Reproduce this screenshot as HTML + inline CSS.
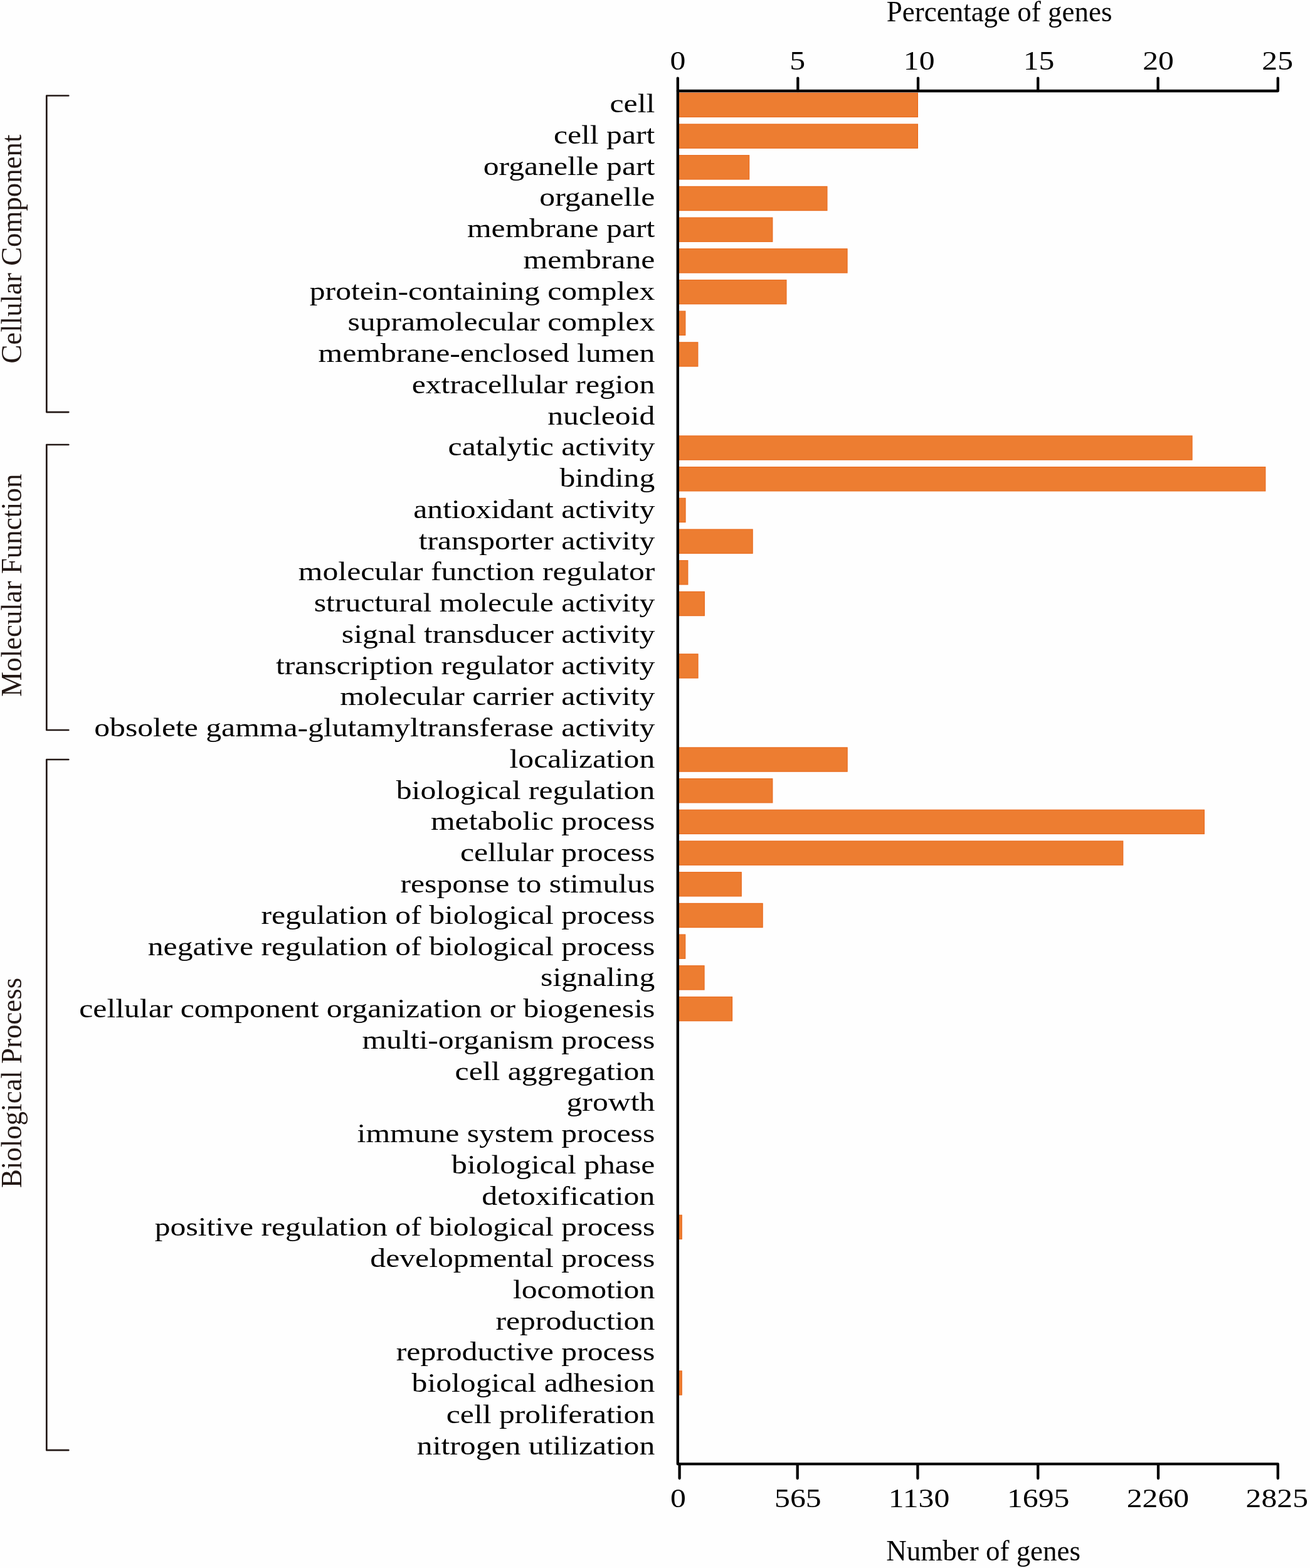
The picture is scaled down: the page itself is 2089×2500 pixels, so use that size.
<!DOCTYPE html>
<html><head><meta charset="utf-8"><title>GO classification</title>
<style>
html,body{margin:0;padding:0;background:#fefefe;}
body{width:2089px;height:2500px;overflow:hidden;}
svg{display:block;}
text{font-family:"Liberation Serif","Times New Roman",serif;}
</style></head><body>
<svg width="2089" height="2500" viewBox="0 0 2089 2500">
<rect width="2089" height="2500" fill="#fefefe"/>

<g fill="#ED7D31" stroke="#E96A1C" stroke-width="1.2">
<rect x="1081" y="148.30" width="382.40" height="38.20"/>
<rect x="1081" y="198.00" width="382.40" height="38.20"/>
<rect x="1081" y="247.69" width="113.60" height="38.20"/>
<rect x="1081" y="297.39" width="237.90" height="38.20"/>
<rect x="1081" y="347.08" width="150.80" height="38.20"/>
<rect x="1081" y="396.78" width="270.00" height="38.20"/>
<rect x="1081" y="446.48" width="172.90" height="38.20"/>
<rect x="1081" y="496.17" width="11.80" height="38.20"/>
<rect x="1081" y="545.87" width="31.80" height="38.20"/>
<rect x="1081" y="694.96" width="820.00" height="38.20"/>
<rect x="1081" y="744.65" width="936.80" height="38.20"/>
<rect x="1081" y="794.35" width="12.00" height="38.20"/>
<rect x="1081" y="844.04" width="119.10" height="38.20"/>
<rect x="1081" y="893.74" width="15.80" height="38.20"/>
<rect x="1081" y="943.44" width="42.30" height="38.20"/>
<rect x="1081" y="1042.83" width="32.00" height="38.20"/>
<rect x="1081" y="1191.92" width="270.10" height="38.20"/>
<rect x="1081" y="1241.61" width="150.80" height="38.20"/>
<rect x="1081" y="1291.31" width="839.30" height="38.20"/>
<rect x="1081" y="1341.00" width="709.70" height="38.20"/>
<rect x="1081" y="1390.70" width="101.20" height="38.20"/>
<rect x="1081" y="1440.40" width="135.10" height="38.20"/>
<rect x="1081" y="1490.09" width="11.70" height="38.20"/>
<rect x="1081" y="1539.79" width="42.00" height="38.20"/>
<rect x="1081" y="1589.48" width="86.50" height="38.20"/>
<rect x="1081" y="1937.36" width="6.20" height="38.20"/>
<rect x="1081" y="2185.84" width="6.20" height="38.20"/>
</g>
<g fill="none" stroke="#000" stroke-width="4.3" stroke-linecap="round" stroke-linejoin="round">
<path d="M1080.8,124.6 V2334.2 H2037.8 V2357"/>
<path d="M1080.8,145 H2037.8 V124.6"/>
<path d="M1272.3,124.6 V145"/>
<path d="M1464.0,124.6 V145"/>
<path d="M1655.2,124.6 V145"/>
<path d="M1846.6,124.6 V145"/>
<path d="M1083.6,2334.2 V2357"/>
<path d="M1271.7,2334.2 V2357"/>
<path d="M1463.4,2334.2 V2357"/>
<path d="M1655.2,2334.2 V2357"/>
<path d="M1847.0,2334.2 V2357"/>
</g>
<g font-size="42" fill="#000" text-anchor="middle">
<text transform="translate(1081.0,110.6) scale(1.1833,1)">0</text>
<text transform="translate(1271.7,110.6) scale(1.1833,1)">5</text>
<text transform="translate(1465.7,110.6) scale(1.1833,1)">10</text>
<text transform="translate(1656.5,110.6) scale(1.1833,1)">15</text>
<text transform="translate(1847.0,110.6) scale(1.1833,1)">20</text>
<text transform="translate(2037.2,110.6) scale(1.1833,1)">25</text>
<text transform="translate(1081.4,2403) scale(1.1833,1)">0</text>
<text transform="translate(1272.3,2403) scale(1.1833,1)">565</text>
<text transform="translate(1465.5,2403) scale(1.1833,1)">1130</text>
<text transform="translate(1655.7,2403) scale(1.1833,1)">1695</text>
<text transform="translate(1846.4,2403) scale(1.1833,1)">2260</text>
<text transform="translate(2036.3,2403) scale(1.1833,1)">2825</text>
</g>
<g font-size="42" fill="#000" text-anchor="end">
<text transform="translate(1044.3,179.07) scale(1.1833,1)">cell</text>
<text transform="translate(1044.3,228.83) scale(1.1833,1)">cell part</text>
<text transform="translate(1044.3,278.58) scale(1.1833,1)">organelle part</text>
<text transform="translate(1044.3,328.34) scale(1.1833,1)">organelle</text>
<text transform="translate(1044.3,378.10) scale(1.1833,1)">membrane part</text>
<text transform="translate(1044.3,427.86) scale(1.1833,1)">membrane</text>
<text transform="translate(1044.3,477.61) scale(1.1833,1)">protein-containing complex</text>
<text transform="translate(1044.3,527.37) scale(1.1833,1)">supramolecular complex</text>
<text transform="translate(1044.3,577.13) scale(1.1833,1)">membrane-enclosed lumen</text>
<text transform="translate(1044.3,626.88) scale(1.1833,1)">extracellular region</text>
<text transform="translate(1044.3,676.64) scale(1.1833,1)">nucleoid</text>
<text transform="translate(1044.3,726.40) scale(1.1833,1)">catalytic activity</text>
<text transform="translate(1044.3,776.15) scale(1.1833,1)">binding</text>
<text transform="translate(1044.3,825.91) scale(1.1833,1)">antioxidant activity</text>
<text transform="translate(1044.3,875.67) scale(1.1833,1)">transporter activity</text>
<text transform="translate(1044.3,925.42) scale(1.1833,1)">molecular function regulator</text>
<text transform="translate(1044.3,975.18) scale(1.1833,1)">structural molecule activity</text>
<text transform="translate(1044.3,1024.94) scale(1.1833,1)">signal transducer activity</text>
<text transform="translate(1044.3,1074.70) scale(1.1833,1)">transcription regulator activity</text>
<text transform="translate(1044.3,1124.45) scale(1.1833,1)">molecular carrier activity</text>
<text transform="translate(1044.3,1174.21) scale(1.1833,1)">obsolete gamma-glutamyltransferase activity</text>
<text transform="translate(1044.3,1223.97) scale(1.1833,1)">localization</text>
<text transform="translate(1044.3,1273.72) scale(1.1833,1)">biological regulation</text>
<text transform="translate(1044.3,1323.48) scale(1.1833,1)">metabolic process</text>
<text transform="translate(1044.3,1373.24) scale(1.1833,1)">cellular process</text>
<text transform="translate(1044.3,1422.99) scale(1.1833,1)">response to stimulus</text>
<text transform="translate(1044.3,1472.75) scale(1.1833,1)">regulation of biological process</text>
<text transform="translate(1044.3,1522.51) scale(1.1833,1)">negative regulation of biological process</text>
<text transform="translate(1044.3,1572.27) scale(1.1833,1)">signaling</text>
<text transform="translate(1044.3,1622.02) scale(1.1833,1)">cellular component organization or biogenesis</text>
<text transform="translate(1044.3,1671.78) scale(1.1833,1)">multi-organism process</text>
<text transform="translate(1044.3,1721.54) scale(1.1833,1)">cell aggregation</text>
<text transform="translate(1044.3,1771.29) scale(1.1833,1)">growth</text>
<text transform="translate(1044.3,1821.05) scale(1.1833,1)">immune system process</text>
<text transform="translate(1044.3,1870.81) scale(1.1833,1)">biological phase</text>
<text transform="translate(1044.3,1920.56) scale(1.1833,1)">detoxification</text>
<text transform="translate(1044.3,1970.32) scale(1.1833,1)">positive regulation of biological process</text>
<text transform="translate(1044.3,2020.08) scale(1.1833,1)">developmental process</text>
<text transform="translate(1044.3,2069.84) scale(1.1833,1)">locomotion</text>
<text transform="translate(1044.3,2119.59) scale(1.1833,1)">reproduction</text>
<text transform="translate(1044.3,2169.35) scale(1.1833,1)">reproductive process</text>
<text transform="translate(1044.3,2219.11) scale(1.1833,1)">biological adhesion</text>
<text transform="translate(1044.3,2268.86) scale(1.1833,1)">cell proliferation</text>
<text transform="translate(1044.3,2318.62) scale(1.1833,1)">nitrogen utilization</text>
</g>
<g font-size="47.5" fill="#000">
<text transform="translate(1413.8,34.1) scale(0.947,1)">Percentage of genes</text>
<text transform="translate(1413.3,2488) scale(0.947,1)">Number of genes</text>
</g>
<g fill="none" stroke="#231815" stroke-width="2.7" stroke-linejoin="round" stroke-linecap="round">
<path d="M109.3 152.5 H74.3 V657.1 H109.3"/>
<path d="M109.3 709 H74.3 V1164 H109.3"/>
<path d="M109.3 1211 H74.3 V2312.2 H109.3"/>
</g>
<g font-size="46.5" fill="#231815">
<text transform="translate(33.9,579.6) rotate(-90) scale(0.965,1)">Cellular Component</text>
<text transform="translate(33.9,1110.7) rotate(-90) scale(0.965,1)">Molecular Function</text>
<text transform="translate(33.9,1894.1) rotate(-90) scale(0.965,1)">Biological Process</text>
</g>
</svg>
</body></html>
